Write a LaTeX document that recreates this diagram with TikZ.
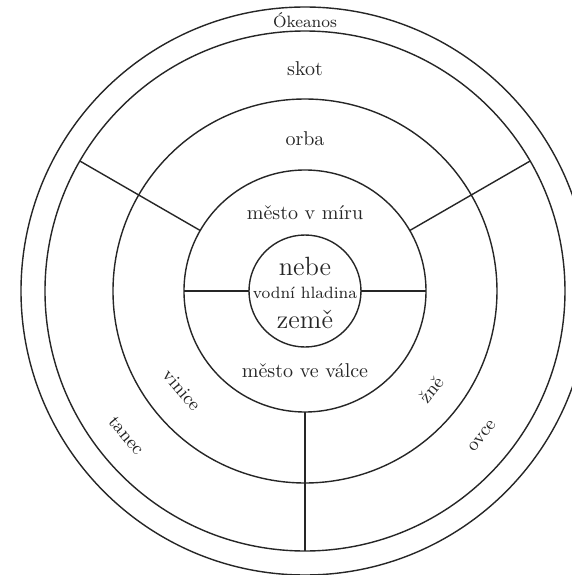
\documentclass[tikz,border=0pt]{standalone}
\usepackage{fontspec}
\begin{document}
\begin{tikzpicture}[x=0.5pt,y=0.5pt,
  ring/.style={line width=0.7pt, draw=black!85},
  divider/.style={line width=0.7pt, draw=black!85},
  lbl/.style={inner sep=0pt, text=black!85, font=\fontsize{10}{12}\selectfont},
  small/.style={lbl, font=\fontsize{8.2}{10}\selectfont},
  big/.style={lbl, font=\fontsize{13.2}{15}\selectfont},
  side/.style={lbl, font=\fontsize{9.3}{11}\selectfont}]
\useasboundingbox (-305,-284) rectangle (267,291);
\begin{scope}
\clip (-305,-284) rectangle (267,291);
\fill[white] (-305,-284) rectangle (267,291);
\coordinate (c) at (0,0);
\draw[ring] (c) circle[radius=284];
\draw[ring] (c) circle[radius=260];
\draw[ring] (c) circle[radius=192];
\draw[ring] (c) circle[radius=121];
\draw[ring] (c) circle[radius=56];
\coordinate (ul1) at (150:121); \coordinate (ul2) at (150:260);
\coordinate (ur1) at (30:121);  \coordinate (ur2) at (30:260);
\coordinate (b1) at (270:121);  \coordinate (b2) at (270:260);
\coordinate (l1) at (180:56);   \coordinate (l2) at (180:121);
\coordinate (r1) at (0:56);     \coordinate (r2) at (0:121);
\draw[divider] (ul1) -- (ul2);
\draw[divider] (ur1) -- (ur2);
\draw[divider] (b1) -- (b2);
\draw[divider] (l1) -- (l2);
\draw[divider] (r1) -- (r2);
\node[small] (okeanos) at (0,271) {Ókeanos};
\node[lbl] (skot) at (0,222) {skot};
\node[lbl] (orba) at (0,152) {orba};
\node[lbl] (mir) at (0,78) {město v míru};
\node[big] (nebe) at (0,25) {nebe};
\node[small] (hladina) at (0,-2) {vodní hladina};
\node[big] (zeme) at (0,-28) {země};
\node[lbl] (valka) at (0,-80) {město ve válce};
\node[side, rotate=-50] (vinice) at (218.8:158) {vinice};
\node[side, rotate=-50] (tanec) at (219:230) {tanec};
\node[side, rotate=51] (zne) at (-38:160) {žně};
\node[side, rotate=51] (ovce) at (-39.3:229) {ovce};
\end{scope}
\end{tikzpicture}
\end{document}
